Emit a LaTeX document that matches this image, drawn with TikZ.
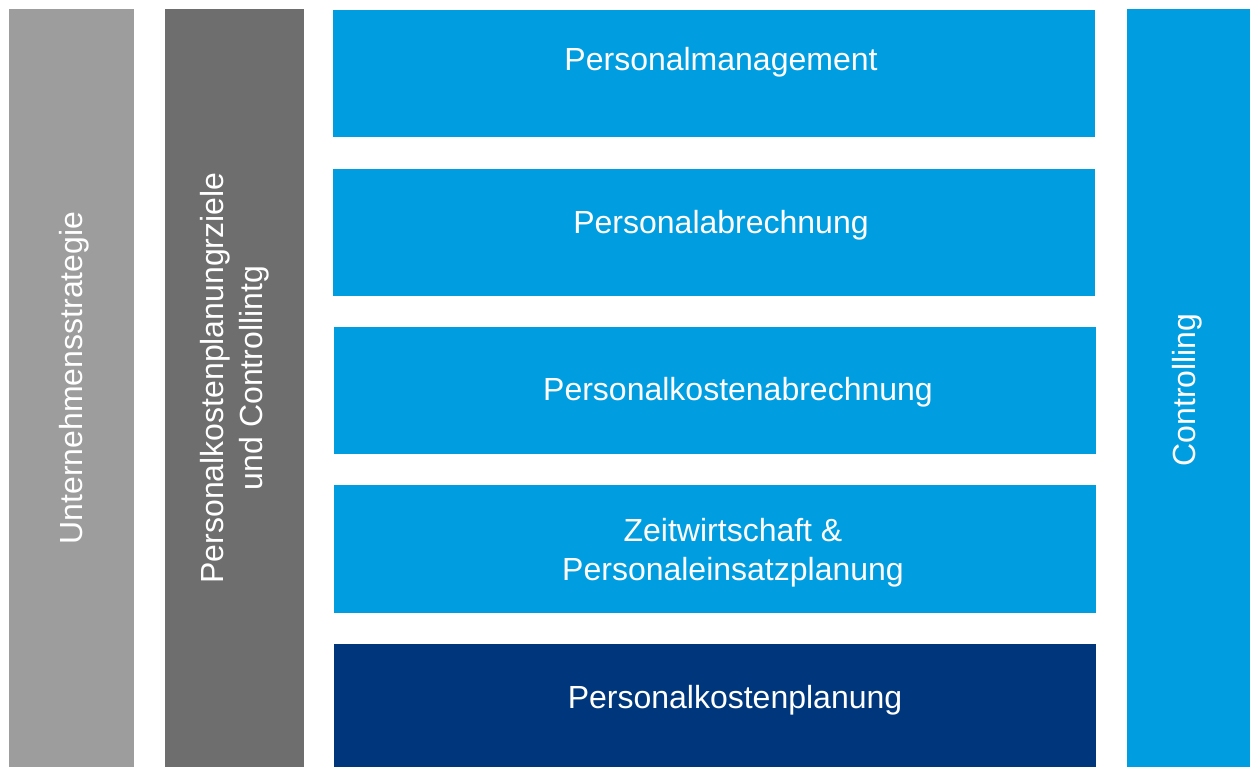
\documentclass[tikz,border=0pt]{standalone}
\usepackage{fontspec}
\setmainfont{Liberation Sans}
\definecolor{stratgrey}{HTML}{9C9D9C}
\definecolor{zielgrey}{HTML}{6E6E6E}
\definecolor{hrblue}{HTML}{009EE0}
\definecolor{hrnavy}{HTML}{00377C}

\begin{document}
\begin{tikzpicture}
  [x=1pt,y=-1pt,
   every node/.style={inner sep=0pt,outer sep=0pt,text=white,align=center,
     font=\fontsize{32}{39}\selectfont},
   blk/.style={fill=hrblue,minimum width=762,minimum height=127},
   col/.style={minimum height=758}]

  \useasboundingbox (0,0) rectangle (1250,767);

  % columns
  \node[col,fill=stratgrey,minimum width=125] (strat) at (71.5,388) {};
  \node[col,fill=zielgrey,minimum width=139] (ziel) at (234.5,388) {};
  \node[col,fill=hrblue,minimum width=123] (ctrl) at (1188.5,388) {};

  % rows
  \node[blk] (pm) at (714,73.5) {};
  \node[blk] (pa) at (714,232.5) {};
  \node[blk] (pka) at (714.5,390.5) {};
  \node[blk,minimum height=128] (zw) at (714.5,549) {};
  \node[blk,fill=hrnavy,minimum height=123] (pkp) at (714.5,705.5) {};

  % labels
  \node[rotate=90] at (74,378) {Unternehmensstrategie};
  \node[rotate=90] at (235,378) {Personalkostenplanungrziele\\und Controllintg};
  \node[rotate=90] at (1187,390) {Controlling};
  \node at (721,62) {Personalmanagement};
  \node at (721,225) {Personalabrechnung};
  \node at (738,392) {Personalkostenabrechnung};
  \node at (733,553) {Zeitwirtschaft \&\\Personaleinsatzplanung};
  \node at (735,700) {Personalkostenplanung};
\end{tikzpicture}
\end{document}
